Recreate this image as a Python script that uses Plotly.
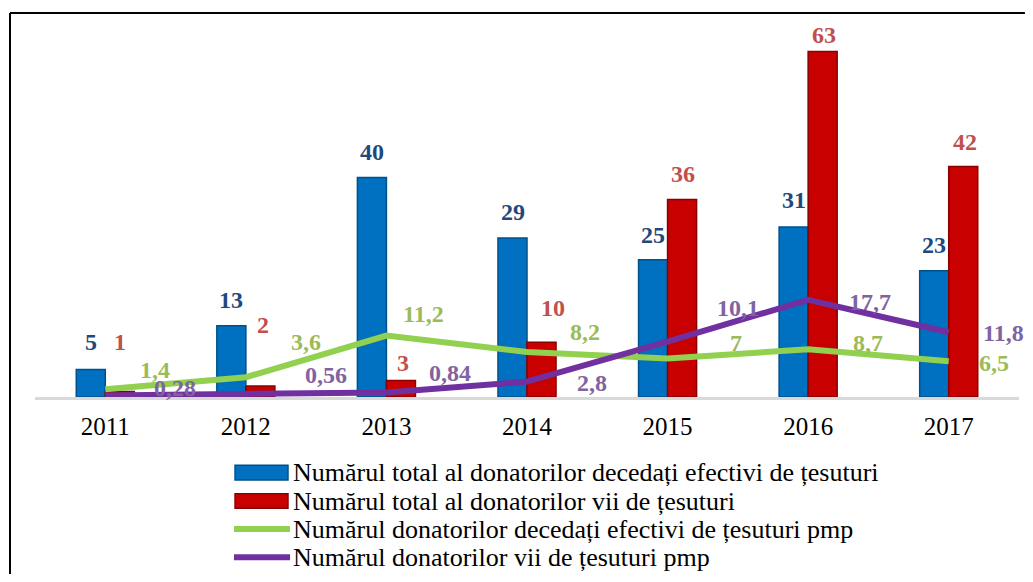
import plotly.graph_objects as go

years = ['2011', '2012', '2013', '2014', '2015', '2016', '2017']
decedati = [5, 13, 40, 29, 25, 31, 23]
vii = [1, 2, 3, 10, 36, 63, 42]
decedati_pmp = [1.4, 3.6, 11.2, 8.2, 7, 8.7, 6.5]
vii_pmp = [0.28, 0.56, 0.84, 2.8, 10.1, 17.7, 11.8]

names = [
    'Numărul total al donatorilor decedați efectivi de țesuturi',
    'Numărul total al donatorilor vii de țesuturi',
    'Numărul donatorilor decedați efectivi de țesuturi pmp',
    'Numărul donatorilor vii de țesuturi pmp',
]
colors = ['#0070C0', '#C80000', '#92D050', '#7030A0']
edge = ['#00508a', '#8a0000']

# label offsets in px (the original chart has hand-placed labels)
blue_dy = [28, 26, 26, 26, 25, 27, 26]
red_dx = [0, 3, 2, 11, 1, 1, 2]
red_dy = [50, 61, 18, 34, 26, 16, 25]
green_dx = [50, 60, 37, 58, 68, 60, 45]
green_dy = [19, 35, 22, 20, 16, 6, -2]
purple_dx = [70, 80, 64, 65, 70, 62, 55]
purple_dy = [7, 19, 19, -1, 34, -2, -1]

FONT = 'Liberation Serif, Times New Roman, serif'


def fmt(v):
    return str(v).replace('.', ',')


fig = go.Figure()
fig.add_trace(go.Bar(x=years, y=decedati, name=names[0],
                     marker=dict(color=colors[0], line=dict(color=edge[0], width=1.5))))
fig.add_trace(go.Bar(x=years, y=vii, name=names[1],
                     marker=dict(color=colors[1], line=dict(color=edge[1], width=1.5))))
fig.add_trace(go.Scatter(x=years, y=decedati_pmp, name=names[2], mode='lines',
                         line=dict(color=colors[2], width=6)))
fig.add_trace(go.Scatter(x=years, y=vii_pmp, name=names[3], mode='lines',
                         line=dict(color=colors[3], width=6)))

lab_font = dict(family=FONT, size=24)
for i in range(len(years)):
    fig.add_annotation(x=i, y=decedati[i], text='<b>%s</b>' % fmt(decedati[i]),
                       showarrow=False, xshift=-14.5, yshift=blue_dy[i],
                       font=dict(lab_font, color='#1F497D'))
    fig.add_annotation(x=i, y=vii[i], text='<b>%s</b>' % fmt(vii[i]),
                       showarrow=False, xshift=14.5 + red_dx[i], yshift=red_dy[i],
                       font=dict(lab_font, color='#C0504D'))
    fig.add_annotation(x=i, y=decedati_pmp[i], text='<b>%s</b>' % fmt(decedati_pmp[i]),
                       showarrow=False, xshift=green_dx[i], yshift=green_dy[i],
                       font=dict(lab_font, color='#9BBB59'))
    fig.add_annotation(x=i, y=vii_pmp[i], text='<b>%s</b>' % fmt(vii_pmp[i]),
                       showarrow=False, xshift=purple_dx[i], yshift=purple_dy[i],
                       font=dict(lab_font, color='#8064A2'))

# hand-drawn legend (wide bar swatches, tight rows like the original)
leg_rows = [-0.197, -0.271, -0.344, -0.417]
for k, name in enumerate(names):
    yc = leg_rows[k]
    if k < 2:
        fig.add_shape(type='rect', xref='paper', yref='paper',
                      x0=0.2033, x1=0.2571, y0=yc - 0.019, y1=yc + 0.019,
                      fillcolor=colors[k], line=dict(color=edge[k], width=1.5))
    else:
        fig.add_shape(type='line', xref='paper', yref='paper',
                      x0=0.2022, x1=0.2592, y0=yc, y1=yc,
                      line=dict(color=colors[k], width=6))
    fig.add_annotation(xref='paper', yref='paper', x=0.2632, y=yc, text=name,
                       xanchor='left', yanchor='middle', showarrow=False, xshift=-3,
                       font=dict(family=FONT, size=26, color='black'))

# frame around the chart (right and bottom edges fall outside the picture)
fig.add_shape(type='line', xref='paper', yref='paper', x0=-0.0254, x1=-0.0254,
              y0=-0.461, y1=1.0, line=dict(color='black', width=2))
fig.add_shape(type='line', xref='paper', yref='paper', x0=-0.0254, x1=1.006,
              y0=1.0, y1=1.0, line=dict(color='black', width=2))

fig.update_layout(
    width=1017, height=566,
    margin=dict(l=27, r=6, t=5, b=177),
    paper_bgcolor='white', plot_bgcolor='white',
    barmode='group', bargap=0.587, bargroupgap=0,
    font=dict(family=FONT, color='black'),
    showlegend=False,
)
fig.update_xaxes(type='category', range=[-0.5, 6.5], showline=True,
                 linecolor='#d9d9d9', linewidth=3, ticks='',
                 tickfont=dict(family=FONT, size=25), ticklabelstandoff=5,
                 showgrid=False, zeroline=False)
fig.update_yaxes(range=[0, 70], visible=False, showgrid=False, zeroline=False)

fig.write_html('out.html')
